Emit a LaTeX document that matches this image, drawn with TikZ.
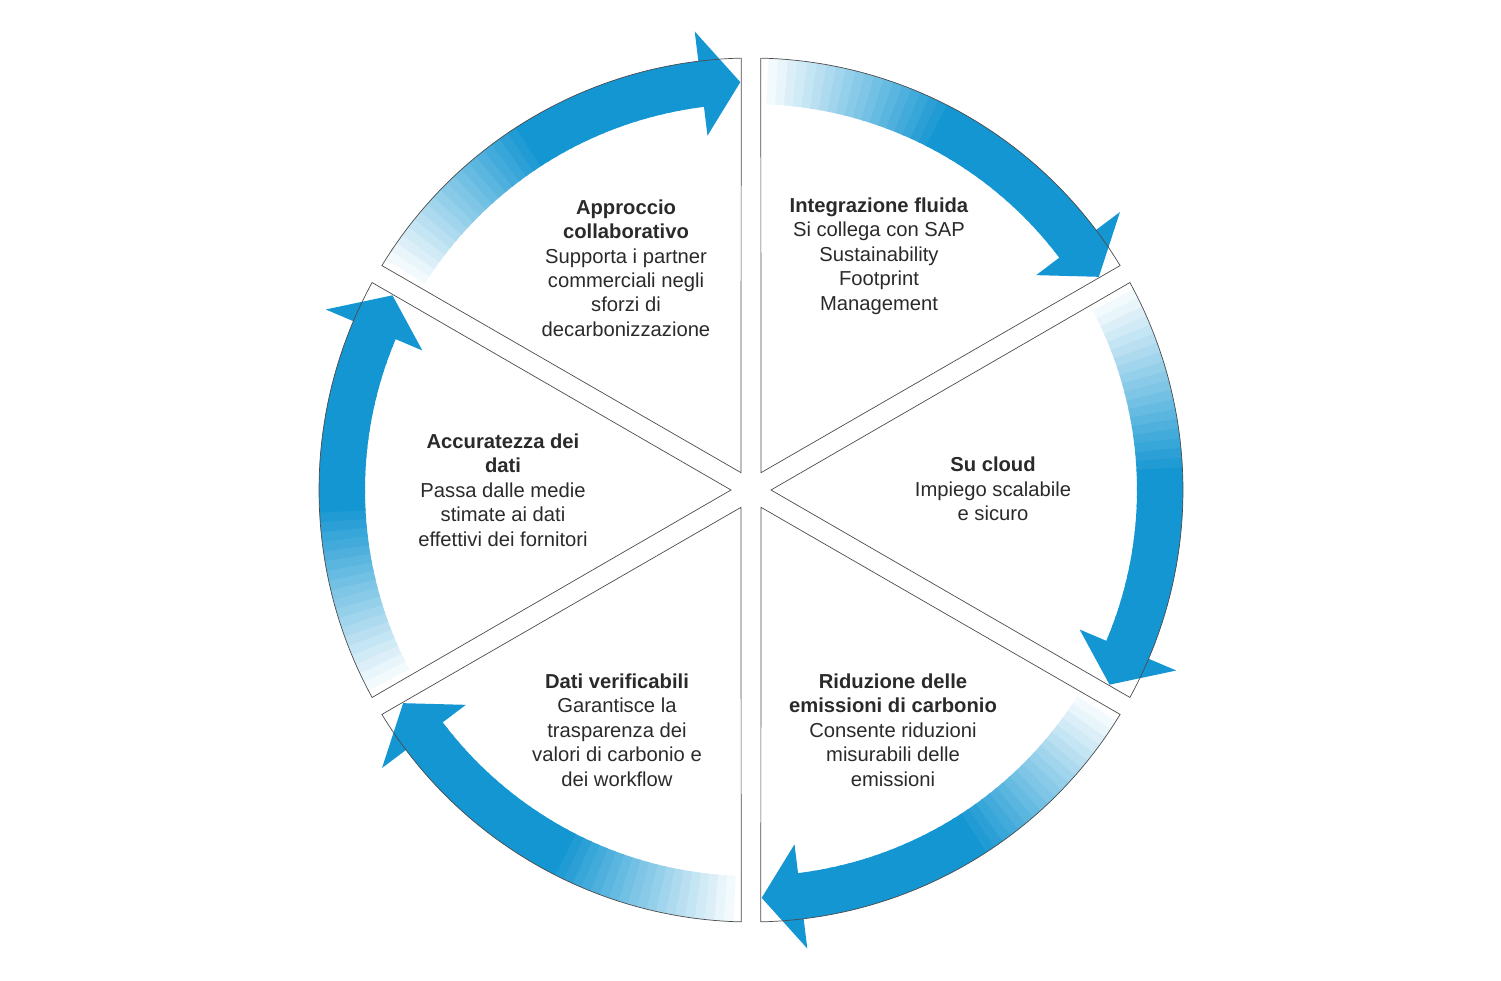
\documentclass[tikz,border=0pt]{standalone}
\usepackage{fontspec}
\setmainfont{Liberation Sans}
\usetikzlibrary{calc}
\definecolor{cblue}{HTML}{1496D2}
\definecolor{ctext}{HTML}{2A2A2A}

\begin{document}
\begin{tikzpicture}[x=0.2mm,y=0.2mm,
	label/.style={align=center,text=ctext,font=\fontsize{11.5}{13.9}\selectfont,inner sep=0pt},
	wedge/.style={draw=black!70,line width=0.4pt}]
	\useasboundingbox (0,0) rectangle (1501,981);
	\begin{scope}[shift={(751,491)}]
		% bands with gradient and arrow heads
		\foreach \s in {150,90,30,-30,-90,-150} {
			\pgfmathsetmacro{\e}{\s-60}
			\foreach \i in {0,...,39} {
				\pgfmathsetmacro{\aa}{\s-1.3-\i*(60-1.3-6.7)/40+0.3}
				\pgfmathsetmacro{\ab}{\s-1.3-(\i+1)*(60-1.3-6.7)/40}
				\pgfmathsetmacro{\p}{min(100,\i*5)}
				\fill[cblue!\p!white] (\aa:386) arc[start angle=\aa,end angle=\ab,radius=386]
					-- (\ab:432) arc[start angle=\ab,end angle=\aa,radius=432] -- cycle;
			}
			\fill[cblue] (\e+7:357) -- (\e+1.5:408) -- (\e+7:462) -- cycle;
		}
		% sectors
		\foreach \s in {150,90,30,-30,-90,-150} {
			\pgfmathsetmacro{\e}{\s-60}
			\draw[wedge] (\s-30:20) -- (\s-1.3:432) arc[start angle=\s-1.3,end angle=\e+1.3,radius=432] -- cycle;
		}
	\end{scope}
	\node[label] (collab) at (626,713) {\textbf{Approccio}\\\textbf{collaborativo}\\Supporta i partner\\commerciali negli\\sforzi di\\decarbonizzazione};
	\node[label] (integr) at (879,725) {\textbf{Integrazione fluida}\\Si collega con SAP\\Sustainability\\Footprint\\Management};
	\node[label] (cloud) at (993,492) {\textbf{Su cloud}\\Impiego scalabile\\e sicuro};
	\node[label] (riduz) at (893,251) {\textbf{Riduzione delle}\\\textbf{emissioni di carbonio}\\Consente riduzioni\\misurabili delle\\emissioni};
	\node[label] (verif) at (617,251) {\textbf{Dati verificabili}\\Garantisce la\\trasparenza dei\\valori di carbonio e\\dei workflow};
	\node[label] (accur) at (503,491) {\textbf{Accuratezza dei}\\\textbf{dati}\\Passa dalle medie\\stimate ai dati\\effettivi dei fornitori};
\end{tikzpicture}
\end{document}
